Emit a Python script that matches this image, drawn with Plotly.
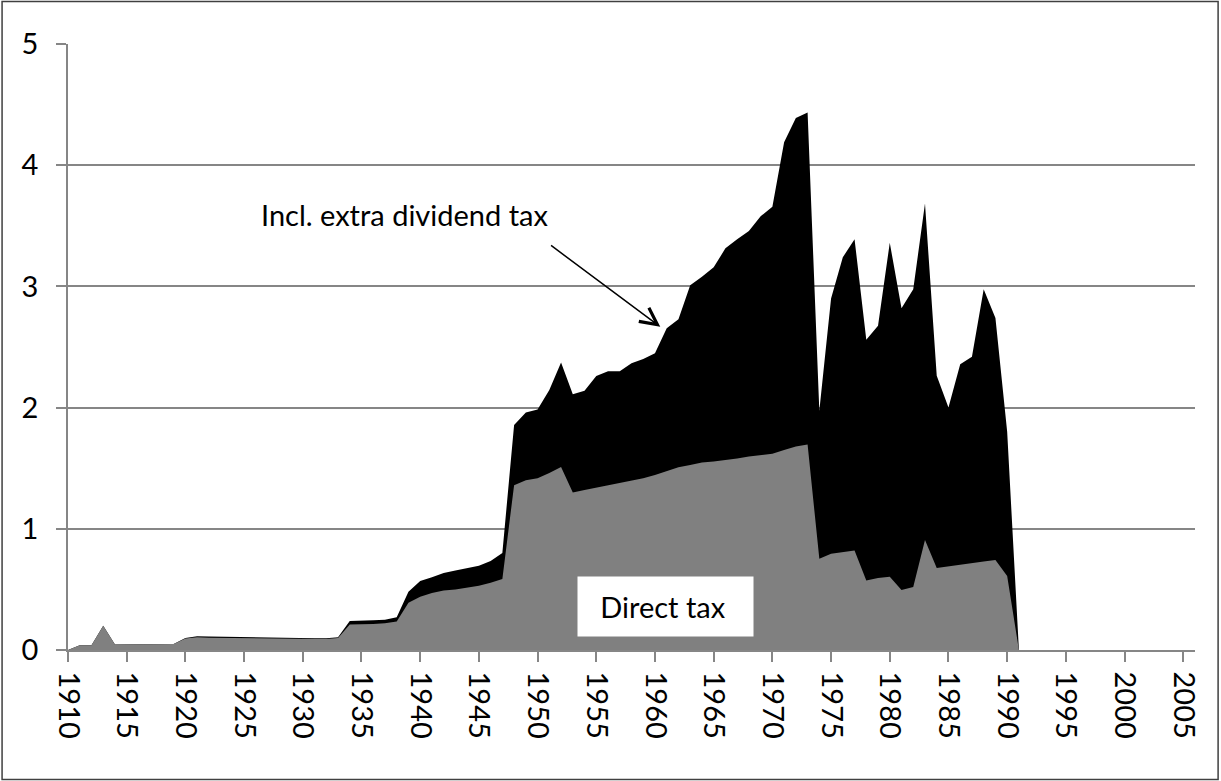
import plotly.graph_objects as go

years = list(range(1910, 1992))

direct_tax = [
    0.0, 0.04, 0.04, 0.2, 0.045, 0.046, 0.047, 0.048, 0.055, 0.05,
    0.095, 0.105, 0.102, 0.1, 0.1, 0.1, 0.095, 0.093, 0.093, 0.092,
    0.09, 0.09, 0.09, 0.1, 0.21, 0.21, 0.215, 0.22, 0.235, 0.39,
    0.44, 0.47, 0.49, 0.50, 0.517, 0.53, 0.555, 0.586, 1.36, 1.40,
    1.417, 1.46, 1.51, 1.30, 1.32, 1.34, 1.36, 1.38, 1.40, 1.417,
    1.444, 1.477, 1.507, 1.527, 1.546, 1.556, 1.565, 1.58, 1.597, 1.606,
    1.62, 1.65, 1.68, 1.695, 0.752, 0.795, 0.81, 0.82, 0.574, 0.595,
    0.604, 0.495, 0.52, 0.907, 0.677, 0.692, 0.707, 0.719, 0.731, 0.743,
    0.61, 0.0,
]

incl_extra_dividend_tax = [
    0.0, 0.04, 0.04, 0.2, 0.045, 0.046, 0.047, 0.048, 0.055, 0.05,
    0.1, 0.113, 0.112, 0.11, 0.11, 0.11, 0.103, 0.1, 0.1, 0.098,
    0.097, 0.097, 0.097, 0.105, 0.24, 0.24, 0.245, 0.25, 0.27, 0.48,
    0.57, 0.6, 0.635, 0.655, 0.677, 0.696, 0.734, 0.80, 1.856, 1.96,
    1.985, 2.145, 2.373, 2.11, 2.14, 2.26, 2.30, 2.30, 2.365, 2.40,
    2.448, 2.654, 2.728, 3.01, 3.08, 3.157, 3.314, 3.39, 3.457, 3.578,
    3.657, 4.19, 4.39, 4.435, 1.974, 2.90, 3.24, 3.39, 2.56, 2.676,
    3.36, 2.82, 2.976, 3.683, 2.263, 2.00, 2.357, 2.42, 2.976, 2.74,
    1.80, 0.0,
]

x_tick_vals = list(range(1910, 2006, 5))
x_tick_text = [str(v) for v in x_tick_vals]
y_tick_vals = [0, 1, 2, 3, 4, 5]

FONT = "Lato"
FS = 29
GRID = "#868686"

fig = go.Figure()
fig.add_trace(go.Scatter(
    x=years, y=incl_extra_dividend_tax, mode="lines", fill="tozeroy",
    fillcolor="#000000", line=dict(color="#000000", width=0),
    name="Incl. extra dividend tax", hoverinfo="skip",
))
fig.add_trace(go.Scatter(
    x=years, y=direct_tax, mode="lines", fill="tozeroy",
    fillcolor="#808080", line=dict(color="#808080", width=0),
    name="Direct tax", hoverinfo="skip",
))

fig.update_layout(
    width=1221, height=781,
    margin=dict(l=68, r=26, t=44, b=131, pad=0),
    paper_bgcolor="white", plot_bgcolor="white",
    showlegend=False,
    font=dict(family=FONT, size=FS, color="black"),
    xaxis=dict(
        range=[1910, 2006], tickmode="array", tickvals=x_tick_vals,
        ticktext=x_tick_text, tickangle=90, ticks="outside", ticklen=10,
        tickcolor=GRID, tickwidth=1.5, showline=True, linecolor=GRID,
        linewidth=1.5, showgrid=False, zeroline=False,
        ticklabelstandoff=4,
        tickfont=dict(family=FONT, size=FS, color="black"),
    ),
    yaxis=dict(
        range=[0, 5], tickmode="array", tickvals=y_tick_vals,
        ticks="outside", ticklen=10, tickcolor=GRID, tickwidth=1.5,
        showline=True, linecolor=GRID, linewidth=1.5,
        showgrid=True, gridcolor=GRID, gridwidth=1.5, zeroline=False,
        ticklabelstandoff=12,
        tickfont=dict(family=FONT, size=FS, color="black"),
    ),
    shapes=[dict(
        type="rect", xref="paper", yref="paper",
        x0=-0.0585, x1=1.0205, y0=-0.2137, y1=1.0701,
        line=dict(color="#404040", width=1.5), fillcolor="rgba(0,0,0,0)",
        layer="below",
    )],
    annotations=[
        dict(
            x=1938.67, y=3.597, xref="x", yref="y",
            text="Incl. extra dividend tax", showarrow=False,
            xanchor="center", yanchor="middle",
            font=dict(family=FONT, size=FS, color="black"),
        ),
        dict(
            x=1960.45, y=2.667, xref="x", yref="y", text="",
            showarrow=True, ax=-110.7, ay=-82.4,
            arrowhead=5, arrowsize=2.2, arrowwidth=1.5, arrowcolor="black",
        ),
        dict(
            x=1953.38, y=0.105, xref="x", yref="y",
            text="\u00a0\u00a0\u00a0Direct tax", showarrow=False,
            xanchor="left", yanchor="bottom", align="left",
            width=175, height=59, borderpad=0, bgcolor="white",
            font=dict(family=FONT, size=FS, color="black"),
        ),
    ],
)

fig.write_html(
    "out.html",
    config={"displayModeBar": False},
    post_script="document.body.style.margin='0';",
)
